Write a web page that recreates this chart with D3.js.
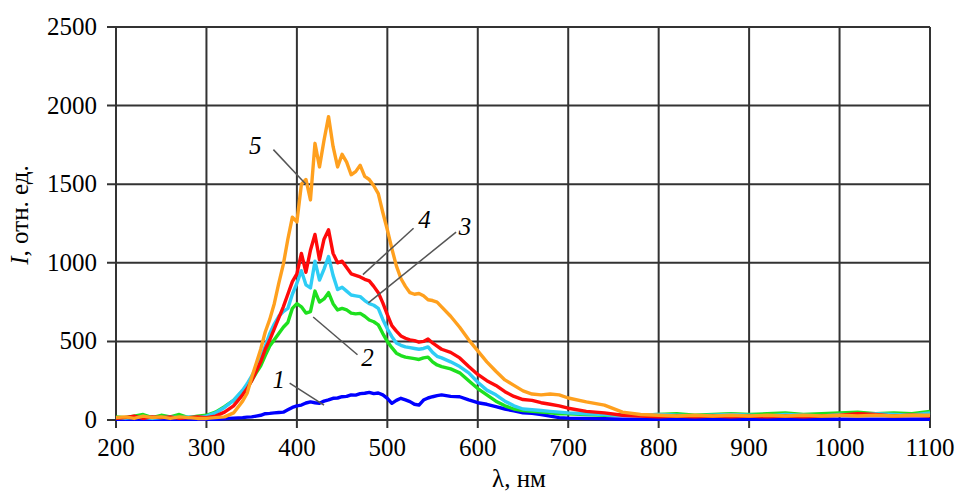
<!DOCTYPE html>
<html>
<head>
<meta charset="utf-8">
<script src="https://cdn.jsdelivr.net/npm/d3@7"></script>
<style>
    body { margin: 0; background: #fff; }
    text { font-family: "Liberation Serif", "Times New Roman", serif; fill: #000; }
    .tick-label { font-size: 25px; }
    .curve-label { font-size: 25px; font-style: italic; }
</style>
</head>
<body>
<div id="chart-div"></div>
<script>

// wavelengths, nm
const wavelengths = [
    200, 210, 220, 230, 240, 250, 260, 270, 280, 290, 300, 310, 320, 330, 340,
    345, 350, 355, 360, 365, 370, 375, 380, 385, 390, 395, 400, 405, 410, 415, 420,
    425, 430, 435, 440, 445, 450, 455, 460, 465, 470, 475, 480, 485, 490, 495, 500,
    505, 510, 515, 520, 525, 530, 535, 540, 545, 550, 555, 560,
    570, 580, 590, 600, 610, 620, 630, 640, 650, 660, 670, 680, 690, 700,
    720, 740, 760, 780, 800, 820, 840, 860, 880, 900, 920, 940, 960, 980, 1000,
    1020, 1040, 1060, 1080, 1100
];

// curve 1 (blue)
const series1 = [
    5, 5, 5, 5, 5, 5, 5, 5, 5, 5, 5, 5, 8, 12, 15,
    18, 20, 25, 30, 40, 42, 45, 48, 50, 65, 80, 90, 95, 108, 115, 110,
    106, 120, 128, 138, 140, 148, 150, 160, 158, 168, 170, 176, 168, 172, 160, 138,
    106, 125, 138, 128, 117, 100, 95, 127, 140, 148, 155, 160,
    150, 148, 128, 110, 100, 85, 70, 58, 45, 42, 35, 25, 15, 12,
    10, 8, 5, 5, 5, 5, 5, 5, 5, 5, 5, 5, 5, 5, 5,
    5, 5, 5, 5, 5
];

// curve 2 (green)
const series2 = [
    20, 15, 25, 35, 15, 30, 20, 35, 15, 25, 30, 50, 85, 125, 185,
    210, 250, 300, 345, 410, 470, 510, 550, 590, 620, 710, 740, 720, 680, 690, 820,
    750, 770, 810, 740, 700, 710, 700, 680, 675, 678, 660, 636, 625, 605, 550, 500,
    460, 425, 410, 400, 395, 390, 385, 395, 400, 370, 350, 340,
    325, 300, 250, 200, 160, 120, 90, 70, 60, 55, 50, 45, 40, 40,
    35, 30, 35, 30, 35, 40, 30, 35, 40, 35, 40, 45, 35, 40, 45,
    50, 40, 45, 40, 55
];

// curve 3 (cyan)
const series3 = [
    15, 10, 20, 15, 10, 15, 20, 15, 20, 15, 25, 45, 80, 125, 190,
    230, 280, 330, 390, 470, 550, 610, 660, 690, 710, 800, 870, 950, 860, 840, 1010,
    890, 960, 1040, 920, 830, 845, 820, 795, 790, 785, 760, 740, 730, 710, 640, 580,
    530, 490, 475, 465, 460, 455, 450, 455, 465, 430, 405, 395,
    370, 340, 300, 240, 190, 160, 120, 90, 70, 65, 60, 55, 50, 45,
    40, 35, 30, 30, 35, 30, 25, 30, 35, 30, 25, 35, 30, 25, 35,
    30, 40, 35, 30, 45
];

// curve 4 (red)
const series4 = [
    10, 15, 25, 10, 20, 15, 20, 10, 15, 20, 15, 25, 50, 90, 160,
    200, 250, 310, 370, 450, 510, 580, 650, 720, 800, 880, 930, 1060, 940, 1080, 1180,
    1020, 1150, 1210, 1060, 1000, 1010, 970, 930, 920, 910, 895, 885, 850, 810, 745, 670,
    600, 565, 535, 520, 510, 505, 495, 500, 515, 490, 470, 450,
    430, 395, 340, 290, 250, 220, 180, 150, 130, 125, 110, 100, 90, 75,
    55, 45, 30, 25, 20, 25, 20, 25, 20, 25, 20, 25, 20, 25, 30,
    40, 35, 25, 30, 25
];

// curve 5 (orange)
const series5 = [
    15, 20, 10, 25, 15, 20, 10, 20, 15, 10, 10, 15, 20, 45, 120,
    170, 270, 360, 450, 560, 640, 740, 870, 990, 1150, 1290, 1260, 1500, 1530, 1400, 1760,
    1610, 1780, 1930, 1740, 1610, 1690, 1640, 1560, 1580, 1620, 1550, 1530, 1490, 1440, 1320, 1210,
    1090, 980, 900, 850, 810, 800, 805, 790, 765, 760, 750, 720,
    660, 590, 510, 440, 370, 310, 255, 220, 185, 165, 160, 165, 160, 140,
    115, 95, 50, 35, 30, 25, 30, 25, 30, 25, 30, 25, 30, 25, 30,
    25, 30, 25, 30, 30
];

const xTicks = [200, 300, 400, 500, 600, 700, 800, 900, 1000, 1100];
const yTicks = [0, 500, 1000, 1500, 2000, 2500];

// curve numbers: label position [wavelength, intensity], leader line from -> to
const curveLabels = ["1", "2", "3", "4", "5"];
const labelAt = [[380, 255], [478, 395], [586, 1230], [541, 1270], [354, 1745]];
const leaderFrom = [[392, 235], [467, 415], [576, 1195], [529, 1220], [374, 1720]];
const leaderTo = [[430, 95], [418, 655], [479, 745], [473, 925], [410, 1500]];

const seriesList = [series1, series2, series3, series4, series5];
const colors = ["#0000ff", "#1ee01e", "#2ecdf5", "#ff0a0a", "#ffa01e"];

const svgDims = { width: 958, height: 493 };
const margin = { top: 27, right: 28, bottom: 73, left: 116 };

const svg = d3.select("#chart-div")
    .append("svg")
    .attr("width", svgDims.width)
    .attr("height", svgDims.height);

const width = svgDims.width - margin.left - margin.right;
const height = svgDims.height - margin.top - margin.bottom;
const g = svg.append("g").attr("transform", "translate(" + margin.left + "," + margin.top + ")");

const xScale = d3.scaleLinear().domain([200, 1100]).range([0, width]);
const yScale = d3.scaleLinear().domain([0, 2500]).range([height, 0]);

// grid
g.selectAll(".vgrid").data(xTicks).enter().append("line")
    .attr("x1", d => xScale(d)).attr("x2", d => xScale(d))
    .attr("y1", 0).attr("y2", height + 8)
    .attr("stroke", "#333").attr("stroke-width", 2);

g.selectAll(".hgrid").data(yTicks).enter().append("line")
    .attr("x1", -9).attr("x2", width)
    .attr("y1", d => yScale(d)).attr("y2", d => yScale(d))
    .attr("stroke", "#333").attr("stroke-width", 2);

// tick labels
g.selectAll(".xlab").data(xTicks).enter().append("text")
    .attr("class", "tick-label")
    .attr("x", d => xScale(d))
    .attr("y", height + 36)
    .attr("text-anchor", "middle")
    .text(d => d);

g.selectAll(".ylab").data(yTicks).enter().append("text")
    .attr("class", "tick-label")
    .attr("x", -19)
    .attr("y", d => yScale(d) + 8)
    .attr("text-anchor", "end")
    .text(d => d);

// curves
const line = d3.line()
    .x((d, i) => xScale(wavelengths[i]))
    .y(d => yScale(d));

seriesList.forEach((s, i) => {
    g.append("path")
        .datum(s)
        .attr("d", line)
        .attr("fill", "none")
        .attr("stroke", colors[i])
        .attr("stroke-width", 3.4)
        .attr("stroke-linejoin", "round");
});

// leader lines and curve numbers
curveLabels.forEach((lab, i) => {
    g.append("line")
        .attr("x1", xScale(leaderFrom[i][0])).attr("y1", yScale(leaderFrom[i][1]))
        .attr("x2", xScale(leaderTo[i][0])).attr("y2", yScale(leaderTo[i][1]))
        .attr("stroke", "#555").attr("stroke-width", 1.5);
    g.append("text")
        .attr("class", "curve-label")
        .attr("x", xScale(labelAt[i][0]))
        .attr("y", yScale(labelAt[i][1]) + 8)
        .attr("text-anchor", "middle")
        .text(lab);
});

// axis titles
svg.append("text")
    .attr("class", "tick-label")
    .attr("x", margin.left + width / 2 - 4)
    .attr("y", 487)
    .attr("text-anchor", "middle")
    .text("λ, нм");

const yTitle = svg.append("text")
    .attr("class", "tick-label")
    .attr("transform", "translate(28,215) rotate(-90)")
    .attr("text-anchor", "middle");
yTitle.append("tspan").style("font-style", "italic").text("I");
yTitle.append("tspan").text(", отн. ед.");

</script>
</body>
</html>
